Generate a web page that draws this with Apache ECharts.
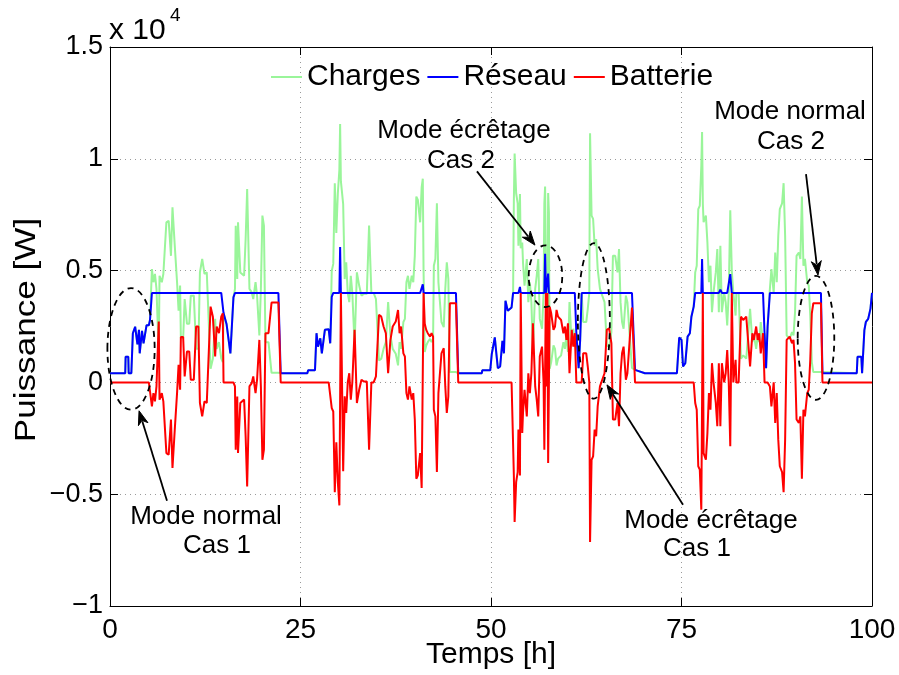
<!DOCTYPE html>
<html><head><meta charset="utf-8">
<script src="https://cdn.jsdelivr.net/npm/echarts@6/dist/echarts.min.js"></script>
<style>html,body{margin:0;padding:0;background:#fff}#c{width:899px;height:675px}</style>
</head><body><div id="c"></div>
<script>
// Time axis (hours)
const hours = [
 0,2.0,2.05,2.4,2.45,2.8,3.0,3.3,3.6,3.8,
 3.9,4.2,4.4,4.8,5.1,5.25,5.5,5.7,5.9,6.1,
 6.4,6.5,6.8,7.0,7.4,7.7,8.0,8.2,8.5,8.8,
 9.0,9.2,9.3,9.6,9.8,10.1,10.4,10.6,11.0,11.3,
 11.6,11.8,12.1,12.4,12.7,13.2,13.5,13.8,14.0,14.3,
 14.6,14.8,14.9,15.3,15.8,16.2,16.4,16.5,16.7,16.8,
 17.1,17.6,17.8,18.0,18.3,18.6,18.8,19.1,19.3,19.6,
 19.8,20.0,20.2,20.4,20.8,21.2,22.1,22.4,
 25.9,26.0,26.9,27.1,27.3,27.6,27.8,28.2,28.7,28.9,
 29.1,29.3,29.5,29.7,29.9,30.1,30.2,30.3,30.6,30.8,
 31.0,31.2,31.4,31.6,31.8,32.1,32.4,32.7,33.0,33.3,
 33.7,34.0,34.3,34.6,34.9,35.3,35.6,35.9,36.2,36.5,
 36.8,37.1,37.5,37.8,38.0,38.2,38.5,38.7,38.9,39.1,
 39.3,39.6,39.8,40.0,40.2,40.4,40.7,40.9,41.05,41.15,
 41.3,41.5,41.7,42.0,42.2,42.4,42.5,42.7,42.9,43.1,
 43.5,43.8,44.0,44.2,44.4,44.6,45.4,45.7,48.8,48.85,
 49.9,
 50.1,50.3,50.5,50.7,50.9,51.2,51.5,51.7,51.9,52.2,
 52.7,52.9,53.0,53.1,53.3,53.5,53.6,53.8,53.9,54.1,
 54.2,54.4,54.7,54.9,55.1,55.3,55.5,55.8,56.0,56.2,
 56.4,56.7,56.9,57.0,57.1,57.2,57.3,57.4,57.5,57.6,
 57.7,57.9,58.2,58.4,58.6,58.8,59.0,59.2,59.5,59.7,
 59.9,60.1,60.3,60.6,60.8,61.0,61.2,61.5,61.7,61.9,
 62.1,62.5,62.7,62.9,63.0,63.2,63.4,63.6,63.8,64.0,
 64.3,64.6,64.9,65.2,65.5,65.8,66.0,66.3,66.6,66.8,
 67.0,67.2,67.4,67.7,67.9,68.2,68.5,68.6,68.9,70.2,
 73.4,
 74.4,74.7,75.0,75.2,75.5,75.8,76.1,76.3,76.6,76.8,
 77.0,77.2,77.4,77.6,77.7,77.8,77.9,78.2,78.4,78.6,
 78.8,79.0,79.2,79.5,79.7,79.9,80.1,80.3,80.6,80.8,
 81.0,81.2,81.4,81.6,81.8,82.1,82.2,82.5,82.8,83.1,
 83.5,83.7,84.0,84.3,84.5,84.8,85.0,85.2,85.4,85.7,
 85.9,86.1,86.3,86.6,86.8,87.1,87.3,87.5,87.7,87.9,
 88.2,88.4,88.6,88.8,89.2,89.5,89.7,89.9,90.1,90.4,
 90.6,90.8,91.0,91.2,91.5,91.7,91.9,92.1,92.3,93.3,
 93.5,98.0,98.1,98.6,98.7,98.85,99.0,99.2,99.5,99.8,
 100
];
// Réseau (W)
const reseau = [
 410,410,1150,1150,410,410,2200,2490,1700,2350,
 1300,2300,1750,2560,2560,2790,4000,4000,4000,4000,
 4000,4000,4000,4000,4000,4000,4000,4000,4000,4000,
 4000,4000,4000,4000,4000,4000,4000,4000,4000,4000,
 4000,4000,4000,4000,4000,4000,4000,4000,4000,4000,
 4000,4000,3100,2600,1300,3800,4000,4000,4000,4000,
 4000,4000,4000,4000,4000,4000,4000,4000,4000,4000,
 4000,4000,4000,4000,4000,4000,4000,410,
 410,540,540,2200,1600,1970,1300,2350,2380,1750,
 3830,4000,4000,4000,4000,4000,6060,4000,4000,4000,
 4000,4000,4000,4000,4000,4000,4000,4000,4000,4000,
 4000,4000,4000,4000,4000,4000,4000,4000,4000,4000,
 4000,4000,4000,4000,4000,4000,4000,4000,4000,4000,
 4000,4000,4000,4000,4000,4000,4000,4000,4390,4000,
 4000,4000,4000,4000,4000,4000,4000,4000,4000,4000,
 4000,4000,4000,4000,4000,4000,4000,410,410,540,
 540,
 1270,1270,2010,1300,640,710,1860,1300,3650,3200,
 3350,4000,4000,4000,4000,4000,4000,4270,4000,4000,
 4000,4000,4000,4000,4000,4000,4000,4000,4000,4000,
 4000,4000,4000,4000,5750,4000,4000,4000,4870,4000,
 4000,4000,4000,4000,4000,4000,4000,4000,4000,4000,
 4000,4000,4000,4000,4000,4000,2200,640,1900,4000,
 4000,4000,4000,4000,4000,4000,4000,4000,4000,4000,
 4000,4000,4000,4000,4000,4000,4000,4000,4000,4000,
 4000,4000,4000,4000,4000,4000,4000,4000,560,410,
 410,
 410,2010,1900,710,860,2050,2200,2940,3390,4000,
 4000,4000,4000,4000,5520,4000,4000,4000,4000,4000,
 4000,4000,4000,4000,4000,4000,4150,4000,4000,4000,
 4000,4000,4840,4000,4000,4000,4000,4000,4000,4000,
 4000,4000,4000,4000,4000,4000,4000,4000,4000,4000,
 2200,640,2500,4000,4000,4000,4000,4000,4000,4000,
 4000,4000,4000,4000,4000,4000,4000,4000,4000,4000,
 4000,4000,4000,4000,4000,4000,4000,4000,4000,4000,
 410,410,1150,1150,410,410,2340,2710,2840,3300,
 4000
];
// Batterie (W)
const batterie = [
 0,0,0,0,0,0,0,0,0,0,
 0,0,0,0,0,0,-1070,-480,-850,-180,
 2720,-770,-480,-850,-3160,-3230,-1660,-3830,-2110,-480,
 790,-330,2030,2030,270,1380,1380,120,120,2500,
 2500,-920,-1520,-850,-920,3390,2940,1160,2500,2200,
 2940,3090,0,0,0,0,-180,-3010,-630,-3160,
 -920,-770,-2410,-4650,-180,-30,270,-480,120,1900,
 -180,-3460,-3010,2200,2200,3570,3570,0,
 0,0,0,0,0,0,0,0,0,0,
 -1150,-1300,-4910,-2680,-4460,-5500,-5500,4000,-3970,-620,
 -1370,0,410,-770,0,2350,-920,-330,120,40,
 40,-3010,0,0,270,3020,2940,2500,2200,410,
 1900,2500,2720,3240,2200,2500,1300,1160,-480,-770,
 -180,-770,-480,-1660,-4310,-4160,-3160,-4720,-4720,4000,
 2640,2350,2200,2050,2200,2050,-1220,-1520,-4010,-480,
 1300,1530,-180,-1370,-630,3540,3540,0,0,0,
 0,
 0,0,0,0,0,0,0,0,0,0,
 0,0,-4160,-6240,-4460,-4010,-2110,-4160,4000,-2260,
 -1370,-330,-1520,410,-480,410,2640,-180,-770,-1520,
 1160,1600,0,-3010,-3010,4000,-180,4000,-3600,-3600,
 3390,3090,2350,2500,3240,2940,2940,2790,2200,2500,
 1900,2640,410,2350,1600,2200,0,0,0,0,
 1300,1300,710,0,-7140,-3460,-3310,-2110,-2410,-1070,
 -180,120,410,2350,2420,1750,-1660,-1660,-920,-1960,
 410,1300,1600,120,410,1900,3350,3350,0,0,
 0,
 0,0,0,0,0,0,0,0,0,-920,
 -1220,-3750,-3900,-5690,-5690,4000,-3160,-3460,-2260,-480,
 -1220,860,0,-920,-1960,860,-1960,860,0,410,
 1450,0,-2860,4000,0,1010,0,0,2940,2790,
 2940,2050,710,2200,1900,2500,1900,2200,1300,2200,
 0,0,0,-180,-1070,0,-1810,-480,-2560,-3750,
 -4010,-4910,-2560,1900,2050,1750,1900,860,-1660,-1810,
 -1520,-4310,-1220,-1520,-480,-330,1010,3090,3540,3540,
 0,0,0,0,0,0,0,0,0,0,
 0
];
// Charges (W)
const charges = [
 410,410,1150,1150,410,410,2200,2490,1700,2350,
 1300,2300,1750,2560,2560,2790,5070,4480,4850,4180,
 1280,4770,4480,4850,7160,7230,5660,7830,6110,4480,
 3210,4330,1970,1970,3730,2620,2620,3880,3880,1500,
 1500,4920,5520,4850,4920,610,1060,2840,1500,1800,
 1060,910,3100,2600,1300,3800,4180,7010,4630,7160,
 4920,4770,6410,8650,4180,4030,3730,4480,3880,2100,
 4180,7460,7010,1800,1800,430,430,410,
 410,540,540,2200,1600,1970,1300,2350,2380,1750,
 4980,5300,8910,6680,8460,9500,11560,9000,7970,4620,
 5370,4000,3590,4770,4000,1650,4920,4330,3880,3960,
 3960,7010,4000,4000,3730,980,1060,1500,1800,3590,
 2100,1500,1280,760,1800,1500,2700,2840,4480,4770,
 4180,4770,4480,5660,8310,8160,7160,8720,9110,5000,
 1360,1650,1800,1950,1800,1950,5220,5520,8010,4480,
 2700,2470,4180,5370,4630,460,460,410,410,540,
 540,
 1270,1270,2010,1300,640,710,1860,1300,3650,3200,
 3350,4000,8160,10240,8460,8010,6110,8430,6000,6260,
 5370,4330,5520,3590,4480,3590,1360,4180,4770,5520,
 2840,2400,4000,8000,8760,5000,4180,3000,8470,7600,
 610,910,1650,1500,760,1060,1060,1210,1800,1500,
 2100,1360,3590,1650,2400,1800,2200,640,1900,4000,
 2700,2700,3290,4000,11140,7460,7310,6110,6410,5070,
 4180,3880,3590,1650,1580,2250,5660,5660,4920,5960,
 3590,2700,2400,3880,3590,2100,650,650,560,410,
 410,
 410,2010,1900,710,860,2050,2200,2940,3390,4920,
 5220,7750,7900,9690,11200,8000,7160,7460,6260,4480,
 5220,3140,4000,4920,5960,3140,6110,3140,4000,3590,
 2550,4000,7700,5000,4000,2990,4000,4000,1060,1210,
 1060,1950,3290,1800,2100,1500,2100,1800,2700,1800,
 2200,640,2500,4180,5070,4000,5810,4480,6560,7750,
 8010,8910,6560,2100,1950,2250,2100,3140,5660,5810,
 5520,8310,5220,5520,4480,4330,2990,910,460,460,
 410,410,1150,1150,410,410,2340,2710,2840,3300,
 4000
];
const seriesNames = ['Charges', 'Réseau', 'Batterie'];
const xTicks = [0, 25, 50, 75, 100];

// Annotations in data units (hours, W)
const ellipses = [
  {t: 2.76, v: 1500, dt: 3.1, dv: 2720},
  {t: 57.15, v: 4750, dt: 2.2, dv: 1380},
  {t: 63.5, v: 2750, dt: 2.1, dv: 3480},
  {t: 92.65, v: 1990, dt: 2.4, dv: 2770}
];
const arrows = [
  {from: [7.48, -5290], to: [3.81, -1270]},
  {from: [48.16, 9440], to: [55.77, 6140]},
  {from: [75.2, -5470], to: [65.22, -110]},
  {from: [91.34, 9310], to: [92.91, 4800]}
];
const notes = [
  {text: 'Mode normal', at: [12.6, -6000]},
  {text: 'Cas 1', at: [14.04, -7300]},
  {text: 'Mode écrêtage', at: [46.46, 11230]},
  {text: 'Cas 2', at: [46.06, 9930]},
  {text: 'Mode écrêtage', at: [78.87, -6180]},
  {text: 'Cas 1', at: [77.03, -7430]},
  {text: 'Mode normal', at: [89.24, 12080]},
  {text: 'Cas 2', at: [89.37, 10740]}
];

const FONT = '"Liberation Sans", Arial, Helvetica, sans-serif';
const chart = echarts.init(document.getElementById('c'));
const pairs = arr => hours.map((t, i) => [t, arr[i]]);
const yFmt = v => { const s = String(Math.round(Math.abs(v) / 1e3) / 10); return v < 0 ? '\u2212' + s : s; };
const grid = {show: true, lineStyle: {color: '#9a9a9a', type: [1, 4], width: 1}};
const axLine = {show: true, onZero: false, lineStyle: {color: '#000', width: 1}};
const tick = {show: true, inside: true, length: 8, lineStyle: {color: '#000', width: 1}};
const colors = ['#9af59a', '#0000ff', '#ff0000'];

chart.setOption({
  animation: false,
  backgroundColor: '#fff',
  grid: {left: 110, right: 27, top: 47, bottom: 69, containLabel: false, outerBoundsMode: 'none'},
  legend: {
    data: seriesNames.map(n => ({name: n, icon: 'rect'})),
    top: 57, left: 266, itemWidth: 31, itemHeight: 2, itemGap: 7,
    textStyle: {fontSize: 30, fontFamily: FONT, color: '#000'}
  },
  xAxis: [
    {type: 'value', min: 0, max: 100, interval: 25, position: 'bottom',
     axisLine: axLine, axisTick: tick, splitLine: grid,
     axisLabel: {fontSize: 28, fontFamily: FONT, color: '#000', margin: 10,
                 formatter: v => xTicks.includes(v) ? String(v) : ''},
     name: 'Temps [h]', nameLocation: 'middle', nameGap: 34, nameMoveOverlap: false,
     nameTextStyle: {fontSize: 30, fontFamily: FONT, color: '#000', verticalAlign: 'top'}},
    {type: 'value', min: 0, max: 100, interval: 25, position: 'top',
     axisLine: axLine, axisTick: tick, splitLine: {show: false}, axisLabel: {show: false}}
  ],
  yAxis: [
    {type: 'value', min: -10000, max: 15000, interval: 5000, position: 'left',
     axisLine: axLine, axisTick: tick, splitLine: grid,
     axisLabel: {formatter: yFmt, fontSize: 27, fontFamily: FONT, color: '#000', margin: 7}},
    {type: 'value', min: -10000, max: 15000, interval: 5000, position: 'right',
     axisLine: axLine, axisTick: tick, splitLine: {show: false}, axisLabel: {show: false}}
  ],
  series: seriesNames.map((n, i) => ({
    name: n, type: 'line', symbol: 'none', showSymbol: false, z: 2 + i,
    data: pairs([charges, reseau, batterie][i]),
    lineStyle: {color: colors[i], width: 2}, itemStyle: {color: colors[i]}
  }))
});

function px(p) { return chart.convertToPixel({xAxisIndex: 0, yAxisIndex: 0}, p); }
const elements = [];
ellipses.forEach(e => {
  const c = px([e.t, e.v]);
  const r = px([e.t + e.dt, e.v + e.dv]);
  elements.push({type: 'ellipse', z: 100, silent: true,
    shape: {cx: c[0], cy: c[1], rx: Math.abs(r[0] - c[0]), ry: Math.abs(r[1] - c[1])},
    style: {fill: null, stroke: '#000', lineWidth: 1.8, lineDash: [6, 5]}});
});
arrows.forEach(a => {
  const p0 = px(a.from), p1 = px(a.to);
  const dx = p1[0] - p0[0], dy = p1[1] - p0[1], L = Math.hypot(dx, dy);
  const ux = dx / L, uy = dy / L, hl = 14, hw = 5;
  const bx = p1[0] - ux * hl, by = p1[1] - uy * hl;
  elements.push({type: 'line', z: 100, silent: true,
    shape: {x1: p0[0], y1: p0[1], x2: bx + ux * 3, y2: by + uy * 3},
    style: {stroke: '#000', lineWidth: 1.8}});
  elements.push({type: 'polygon', z: 100, silent: true,
    shape: {points: [[p1[0], p1[1]], [bx - uy * hw, by + ux * hw], [bx + ux * 4, by + uy * 4], [bx + uy * hw, by - ux * hw]]},
    style: {fill: '#000', stroke: '#000', lineWidth: 1}});
});
notes.forEach(n => {
  const p = px(n.at);
  elements.push({type: 'text', z: 100, silent: true, x: p[0], y: p[1],
    style: {text: n.text, font: '26px ' + FONT, fill: '#000', align: 'center', verticalAlign: 'middle'}});
});
// y-axis title (stretched along its length like the reference)
elements.push({type: 'text', z: 100, silent: true, x: 27, y: 330, rotation: Math.PI / 2, scaleX: 1.17,
  style: {text: 'Puissance [W]', font: '30px ' + FONT, fill: '#000', align: 'center', verticalAlign: 'middle'}});
elements.push({type: 'text', z: 100, silent: true, x: 109, y: 31,
  style: {text: 'x 10', font: '30px ' + FONT, fill: '#000', align: 'left', verticalAlign: 'middle'}});
elements.push({type: 'text', z: 100, silent: true, x: 170, y: 16,
  style: {text: '4', font: '19px ' + FONT, fill: '#000', align: 'left', verticalAlign: 'middle'}});
chart.setOption({graphic: {elements: elements}});
</script>
</body></html>
